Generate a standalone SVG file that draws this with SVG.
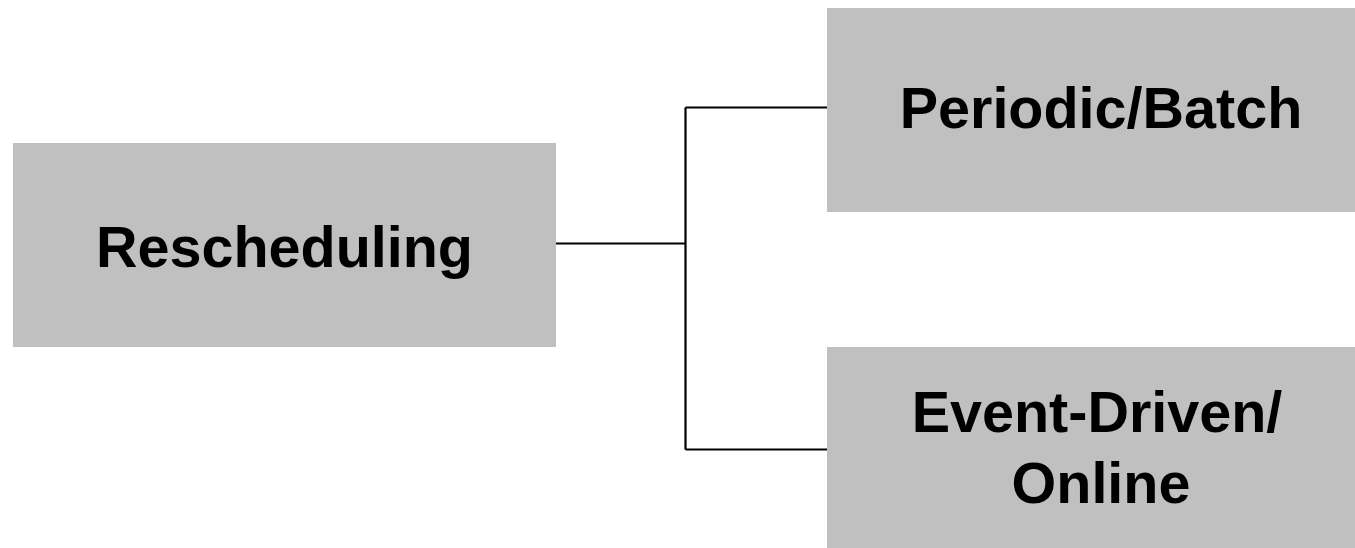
<svg xmlns="http://www.w3.org/2000/svg" width="1355" height="548" viewBox="0 0 1355 548">
<style>
.box{fill:#c0c0c0;}
.lbl{font-family:"Liberation Sans",Arial,sans-serif;font-weight:bold;font-size:57.5px;fill:#000;text-anchor:middle;}
.conn{stroke:#000;stroke-width:2.2;fill:none;}
</style>
<rect width="1355" height="548" fill="#fff"/>
<g id="connectors">
<path class="conn" d="M556,243.5 H685.5 M685.5,107.5 V449.5 M685.5,107.5 H827 M685.5,449.5 H827"/>
</g>
<g id="rescheduling">
<rect class="box" x="13" y="143" width="543" height="204"/>
<text class="lbl" x="284.5" y="266.5">Rescheduling</text>
</g>
<g id="periodic">
<rect class="box" x="827" y="8" width="528" height="204"/>
<text class="lbl" x="1101" y="128">Periodic/Batch</text>
</g>
<g id="event">
<rect class="box" x="827" y="347" width="528" height="201"/>
<text class="lbl" x="1097" y="431.5">Event-Driven/</text>
<text class="lbl" x="1101" y="502.5">Online</text>
</g>
</svg>
